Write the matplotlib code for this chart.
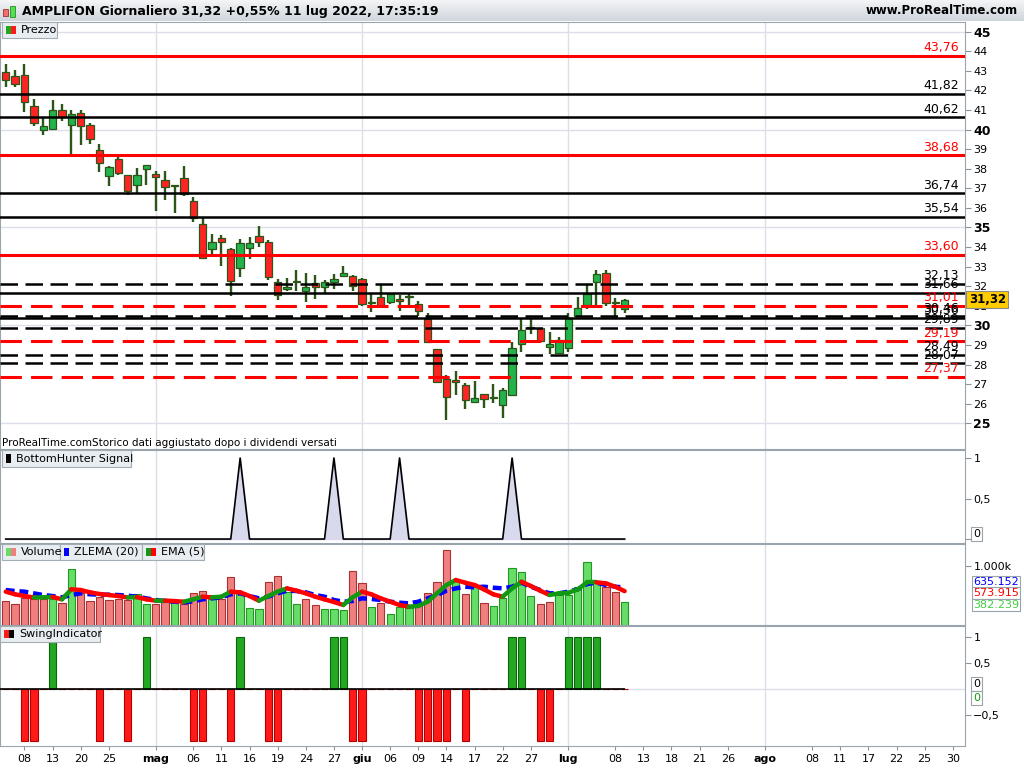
import numpy as np
import pandas as pd
import matplotlib
matplotlib.use("Agg")
import matplotlib.pyplot as plt
from matplotlib.patches import Rectangle
from matplotlib.collections import LineCollection

# daily candles, 06 apr -> 11 lug 2022
opens = [42.93, 42.73, 42.79, 41.20, 39.98, 40.01, 41.00, 40.21, 40.84, 40.23,
         38.97, 37.63, 38.52, 37.70, 37.15, 37.99, 37.74, 37.43, 37.10, 37.53,
         36.37, 35.20, 33.91, 34.48, 33.88, 32.95, 33.97, 34.56, 34.27, 32.23,
         31.84, 32.22, 31.75, 32.18, 31.98, 32.23, 32.52, 32.52, 32.39, 31.21,
         31.47, 31.21, 31.37, 31.44, 31.08, 30.31, 28.79, 27.26, 27.21, 26.95,
         26.07, 26.49, 26.27, 25.95, 26.46, 29.04, 29.85, 29.85, 28.92, 28.57,
         28.87, 30.48, 31.04, 32.23, 32.66, 31.16, 30.82]
highs = [43.35, 43.05, 43.35, 41.57, 40.59, 41.52, 41.32, 41.01, 41.01, 40.33,
         39.28, 38.16, 38.77, 37.70, 38.02, 38.19, 37.90, 37.90, 37.12, 38.16,
         36.56, 35.46, 34.69, 34.64, 33.97, 34.39, 34.53, 35.10, 34.34, 32.35,
         32.44, 32.81, 32.69, 32.55, 32.30, 32.60, 33.03, 32.55, 32.40, 31.62,
         32.13, 31.59, 31.54, 31.67, 31.25, 30.65, 28.82, 27.46, 27.65, 27.05,
         27.14, 26.49, 27.00, 26.80, 29.16, 30.31, 30.31, 29.87, 29.64, 29.43,
         30.65, 31.47, 32.10, 32.81, 32.81, 31.42, 31.37]
lows = [42.15, 42.15, 40.87, 40.16, 39.70, 39.96, 40.42, 38.72, 39.23, 39.28,
        37.82, 37.10, 37.66, 36.65, 36.77, 37.19, 35.83, 36.39, 35.73, 36.59,
        35.29, 33.42, 33.62, 33.03, 31.50, 32.47, 33.37, 34.00, 32.30, 31.30,
        31.75, 31.75, 31.19, 31.33, 31.67, 31.84, 32.47, 31.75, 30.99, 30.69,
        30.99, 31.08, 30.74, 30.99, 30.48, 29.13, 27.05, 25.18, 26.46, 25.73,
        26.07, 25.78, 26.03, 25.27, 26.41, 28.65, 29.55, 29.19, 28.53, 28.57,
        28.62, 30.48, 30.86, 30.99, 30.99, 30.48, 30.65]
closes = [42.52, 42.32, 41.43, 40.33, 40.18, 41.00, 40.64, 40.79, 40.16, 39.50,
          38.30, 38.11, 37.79, 36.85, 37.70, 38.19, 37.58, 37.05, 37.10, 36.73,
          35.49, 33.46, 34.27, 34.27, 32.26, 34.22, 34.22, 34.27, 32.47, 31.55,
          31.96, 32.24, 31.98, 31.96, 32.23, 32.35, 32.69, 32.01, 31.08, 31.13,
          30.99, 31.59, 31.25, 31.46, 30.71, 29.17, 27.09, 26.32, 27.09, 26.19,
          26.29, 26.24, 26.31, 26.70, 28.84, 29.75, 29.86, 29.21, 29.04, 29.24,
          30.36, 30.91, 31.62, 32.60, 31.16, 31.15, 31.32]

volume_k = [407, 356, 452, 435, 435, 446, 373, 944, 537, 407,
            480, 424, 435, 424, 525, 356, 356, 390, 395, 356,
            542, 576, 435, 435, 808, 537, 282, 266, 723, 830,
            565, 356, 435, 339, 266, 266, 254, 915, 712, 299,
            373, 186, 299, 288, 339, 548, 729, 1271, 740, 525,
            649, 373, 322, 458, 966, 898, 492, 356, 390, 508,
            514, 638, 1068, 717, 638, 559, 382]
vol_dir = "RRRRRGRGRRRRRRGGRRGRRRGRRGGGRRGGRRGGGRRGRGGGRRRRGRGRGGGGGRRGGGGGRRG"
zlema20_k = [593, 576, 565, 537, 508, 491, 469, 508, 537, 520,
             514, 514, 508, 497, 480, 452, 424, 407, 395, 384,
             401, 435, 452, 469, 520, 537, 491, 452, 480, 537,
             582, 576, 554, 508, 480, 424, 395, 407, 452, 441,
             424, 395, 378, 367, 395, 452, 508, 582, 621, 649,
             638, 649, 632, 621, 649, 717, 649, 593, 537, 537,
             565, 604, 695, 717, 678, 649, 635]
ema5_k = [565, 520, 491, 466, 469, 475, 435, 605, 593, 554,
          525, 508, 491, 466, 472, 435, 412, 414, 405, 395,
          435, 480, 469, 480, 565, 554, 491, 412, 491, 565,
          621, 582, 537, 480, 435, 390, 339, 469, 565, 520,
          452, 395, 339, 311, 322, 395, 537, 678, 763, 717,
          678, 604, 520, 480, 621, 734, 661, 582, 508, 537,
          545, 604, 723, 723, 706, 649, 574]
bottom_hunter = [0, 0, 0, 0, 0, 0, 0, 0, 0, 0, 0, 0, 0, 0, 0, 0, 0, 0, 0, 0,
                 0, 0, 0, 0, 0, 1, 0, 0, 0, 0, 0, 0, 0, 0, 0, 1, 0, 0, 0, 0,
                 0, 0, 1, 0, 0, 0, 0, 0, 0, 0, 0, 0, 0, 0, 1, 0, 0, 0, 0, 0,
                 0, 0, 0, 0, 0, 0, 0]
swing = [0, 0, -1, -1, 0, 1, 0, 0, 0, 0, -1, 0, 0, -1, 0, 1, 0, 0, 0, 0,
         -1, -1, 0, 0, -1, 1, 0, 0, -1, -1, 0, 0, 0, 0, 0, 1, 1, -1, -1, 0,
         0, 0, 0, 0, -1, -1, -1, -1, 0, -1, 0, 0, 0, 0, 1, 1, 0, -1, -1, 0,
         1, 1, 1, 1, 0, 0, 0]

levels = [43.76, 41.82, 40.62, 38.68, 36.74, 35.54, 33.60, 32.13, 31.66,
          31.01, 30.46, 30.36, 29.89, 29.19, 28.49, 28.07, 27.37]
level_red = [1, 0, 0, 1, 0, 0, 1, 0, 0, 1, 0, 0, 0, 1, 0, 0, 1]
level_dashed = [0, 0, 0, 0, 0, 0, 0, 1, 0, 1, 1, 0, 1, 1, 1, 1, 1]

holidays = ["2022-04-15", "2022-04-18", "2022-08-15"]
xtick_dates = ["2022-04-08", "2022-04-13", "2022-04-20", "2022-04-25", "2022-05-02",
               "2022-05-06", "2022-05-11", "2022-05-16", "2022-05-19", "2022-05-24",
               "2022-05-27", "2022-06-01", "2022-06-06", "2022-06-09", "2022-06-14",
               "2022-06-17", "2022-06-22", "2022-06-27", "2022-07-01", "2022-07-08",
               "2022-07-13", "2022-07-18", "2022-07-21", "2022-07-26", "2022-08-01",
               "2022-08-08", "2022-08-11", "2022-08-17", "2022-08-22", "2022-08-25",
               "2022-08-30"]
month_names = {5: "mag", 6: "giu", 7: "lug", 8: "ago"}
month_starts = ["2022-05-02", "2022-06-01", "2022-07-01", "2022-08-01"]

# ---------------------------------------------------------------
W, H = 1024, 768
AX_RIGHT = 965
GRID = "#dcdfe7"
SPINE = "#9aa4ae"
WICK = "#2c5518"

days = pd.bdate_range("2022-04-06", "2022-08-31")
days = days[~days.isin(pd.to_datetime(holidays))]
pos = {d.strftime("%Y-%m-%d"): i for i, d in enumerate(days)}

x = np.arange(len(closes))
o, hi, lo, c = map(np.array, (opens, highs, lows, closes))
xlim = (-0.61, 102.3)

fig = plt.figure(figsize=(W / 100, H / 100), dpi=100)


def fy(py):
    return 1 - py / H


def panel(top, bottom):
    ax = fig.add_axes([0, fy(bottom), AX_RIGHT / W, (bottom - top) / H])
    ax.set_xlim(*xlim)
    ax.yaxis.tick_right()
    ax.tick_params(axis="y", direction="out", length=4, color="#8a949e",
                   labelsize=8, pad=2)
    ax.tick_params(axis="x", bottom=False, labelbottom=False)
    for s in ax.spines.values():
        s.set_color(SPINE)
    for d in month_starts:
        ax.axvline(pos[d], color=GRID, lw=1, zorder=0)
    return ax


def legend_box(x0, y0, w, h, label, swatches):
    fig.patches.append(Rectangle((x0 / W, fy(y0 + h)), w / W, h / H,
                                 transform=fig.transFigure, facecolor="#e7edf1",
                                 edgecolor="#a3abb3", lw=0.8, zorder=5))
    sx = x0 + 4
    for col in swatches:
        fig.patches.append(Rectangle((sx / W, fy(y0 + h - 4)), 5 / W, (h - 8) / H,
                                     transform=fig.transFigure, facecolor=col,
                                     edgecolor="none", zorder=6))
        sx += 5
    fig.text((sx + 5) / W, fy(y0 + h / 2), label, fontsize=8, va="center",
             ha="left", zorder=7)


# header bar
axh = fig.add_axes([0, fy(21), 1, 21 / H])
grad = np.linspace(0, 1, 30).reshape(-1, 1)
axh.imshow(grad, aspect="auto", cmap=matplotlib.colors.LinearSegmentedColormap.from_list(
    "hdr", ["#f3f5f7", "#cfd6dc"]), extent=(0, 1, 0, 1))
axh.axis("off")
fig.patches.append(Rectangle((3 / W, fy(16)), 5 / W, 7 / H, transform=fig.transFigure,
                             facecolor="#f07070", edgecolor="#a03030", lw=0.6))
fig.patches.append(Rectangle((10 / W, fy(17)), 5 / W, 11 / H, transform=fig.transFigure,
                             facecolor="#55dd55", edgecolor="#209020", lw=0.6))
fig.text(22 / W, fy(11), "AMPLIFON Giornaliero 31,32 +0,55% 11 lug 2022, 17:35:19",
         fontsize=9, fontweight="bold", va="center")
fig.text(1018 / W, fy(11), "www.ProRealTime.com", fontsize=8.5, fontweight="bold",
         va="center", ha="right")

# ---------------- price panel ----------------
axp = panel(22, 449)
axp.set_ylim(23.69, 45.49)
pticks = list(range(25, 46))
axp.set_yticks(pticks)
axp.set_yticklabels([str(t) for t in pticks])
for t, lab in zip(pticks, axp.get_yticklabels()):
    if t % 5 == 0:
        lab.set_fontweight("bold")
        lab.set_fontsize(9)
for t in range(25, 46, 5):
    axp.axhline(t, color=GRID, lw=1, zorder=0)

up = c >= o
axp.vlines(x, lo, hi, color=WICK, lw=1.7, zorder=3)
body = np.maximum(np.abs(c - o), 0.05)
axp.bar(x, body, bottom=np.minimum(o, c), width=0.78,
        color=np.where(up, "#22b34c", "#ff2424"), edgecolor=WICK, lw=0.9, zorder=4)

ytrans = axp.get_yaxis_transform()
for lev, red, dashed in zip(levels, level_red, level_dashed):
    col = "#ff0000" if red else "#000000"
    lw = 2.2 if red else 1.8
    if dashed:
        axp.axhline(lev, color=col, lw=lw, dashes=(7, 3), zorder=5)
    else:
        axp.axhline(lev, color=col, lw=lw, zorder=5)
    axp.text(0.9935, lev + 0.08, f"{lev:.2f}".replace(".", ","), transform=ytrans,
             ha="right", va="bottom", fontsize=9, color=col, zorder=6)

axp.text(1.004, closes[-1], f"{closes[-1]:.2f}".replace(".", ","), transform=ytrans,
         ha="left", va="center", fontsize=8.5, fontweight="bold", clip_on=False,
         bbox=dict(boxstyle="square,pad=0.2", facecolor="#ffcc00", edgecolor="#8a8a8a",
                   lw=0.8), zorder=10)

legend_box(2, 22, 55, 16, "Prezzo", ["#1fa81f", "#ff1a1a"])
fig.text(2 / W, fy(443), "ProRealTime.comStorico dati aggiustato dopo i dividendi versati",
         fontsize=7.5, va="center")

# ---------------- BottomHunter ----------------
axb = panel(450, 543)
axb.set_ylim(-0.049, 1.099)
axb.fill_between(x, bottom_hunter, 0, color="#d9d9ee", zorder=1)
axb.plot(x, bottom_hunter, color="black", lw=1.2, zorder=2)
axb.set_yticks([1, 0.5, 0])
axb.set_yticklabels(["1", "0,5", ""])
fig.text(973 / W, fy(534), "0", fontsize=8, va="center",
         bbox=dict(boxstyle="square,pad=0.15", facecolor="white", edgecolor="#9aa4ae", lw=0.8))
legend_box(2, 450, 129, 17, "BottomHunter Signal", ["#000000"])

# ---------------- Volume ----------------
axv = panel(544, 625)
axv.set_ylim(0, 1373)
vup = np.array([d == "G" for d in vol_dir])
axv.bar(x, volume_k, width=0.78, color=np.where(vup, "#66dd66", "#f08080"),
        edgecolor=np.where(vup, "#1f9a1f", "#a83232"), lw=0.8, zorder=2)
axv.plot(x, zlema20_k, color="#0000ff", lw=3.2, dashes=(2, 1.1), zorder=3,
         solid_capstyle="butt")
ema = np.array(ema5_k)
segs = [[(x[i], ema[i]), (x[i + 1], ema[i + 1])] for i in range(len(ema) - 1)]
ecols = ["#119911" if ema[i + 1] >= ema[i] else "#ff0000" for i in range(len(ema) - 1)]
axv.add_collection(LineCollection(segs, colors=ecols, lw=3.2, zorder=4,
                                  capstyle="round"))
axv.set_yticks([1000])
axv.set_yticklabels(["1.000k"])
for txt, col, py in [("635.152", "#0000ff", 582), ("573.915", "#ff0000", 593),
                     ("382.239", "#44cc44", 605)]:
    fig.text(973 / W, fy(py), txt, fontsize=8, color=col, va="center",
             bbox=dict(boxstyle="square,pad=0.12", facecolor="white",
                       edgecolor="#9aa4ae", lw=0.8))
legend_box(2, 544, 58, 16, "Volume", ["#66dd66", "#f08080"])
legend_box(60, 544, 82, 16, "ZLEMA (20)", ["#0000ff"])
legend_box(142, 544, 62, 16, "EMA (5)", ["#119911", "#ff0000"])

# ---------------- SwingIndicator ----------------
axs = panel(626, 746)
axs.set_ylim(-1.09, 1.217)
sw = np.array(swing)
axs.axhline(0, color=GRID, lw=1, zorder=0)
axs.bar(x, sw, width=0.78, color=np.where(sw > 0, "#22a822", "#ff1a1a"),
        edgecolor=np.where(sw > 0, "#0d640d", "#b00000"), lw=0.8, zorder=2)
axs.hlines(0, xlim[0], x[-1], color="black", lw=1.2, zorder=3)
axs.set_yticks([1, 0.5, -0.5])
axs.set_yticklabels(["1", "0,5", "\u22120,5"])
fig.text(973 / W, fy(684), "0", fontsize=8, va="center",
         bbox=dict(boxstyle="square,pad=0.15", facecolor="white", edgecolor="#9aa4ae", lw=0.8))
fig.text(973 / W, fy(698), "0", fontsize=8, va="center", color="#119911",
         bbox=dict(boxstyle="square,pad=0.15", facecolor="white", edgecolor="#9aa4ae", lw=0.8))
legend_box(0, 626, 100, 16, "SwingIndicator", ["#ff1a1a", "#000000"])

# x axis
xt = [pos[d] for d in xtick_dates]
xl = []
for d in xtick_dates:
    dt = pd.Timestamp(d)
    xl.append(month_names[dt.month] if d in month_starts else dt.strftime("%d"))
axs.tick_params(axis="x", bottom=True, labelbottom=True, direction="out",
                length=3, color="#8a949e", labelsize=8, pad=3)
axs.set_xticks(xt)
axs.set_xticklabels(xl)
for d, lab in zip(xtick_dates, axs.get_xticklabels()):
    if d in month_starts:
        lab.set_fontweight("bold")

fig.savefig("out.png", dpi=100)
